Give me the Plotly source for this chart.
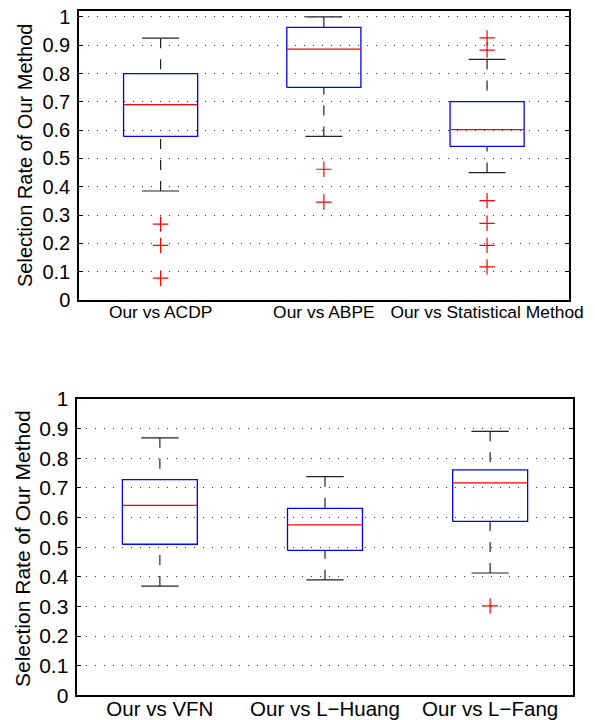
import plotly.graph_objects as go

# ---------------- data ----------------
top_labels = ["Our vs ACDP", "Our vs ABPE", "Our vs Statistical Method"]
top_upper = [0.925, 1.000, 0.850]
top_q3 = [0.800, 0.963, 0.701]
top_median = [0.690, 0.886, 0.602]
top_q1 = [0.578, 0.751, 0.543]
top_lower = [0.385, 0.578, 0.450]
top_outliers = [[0.268, 0.193, 0.077],
                [0.462, 0.346],
                [0.926, 0.883, 0.351, 0.271, 0.193, 0.117]]

bot_labels = ["Our vs VFN", "Our vs L\u2212Huang", "Our vs L\u2212Fang"]
bot_upper = [0.869, 0.738, 0.891]
bot_q3 = [0.728, 0.631, 0.761]
bot_median = [0.641, 0.575, 0.717]
bot_q1 = [0.510, 0.489, 0.587]
bot_lower = [0.369, 0.390, 0.413]
bot_outliers = [[], [], [0.302]]

y_title = "Selection Rate of Our Method"
y_ticks = [0, 0.1, 0.2, 0.3, 0.4, 0.5, 0.6, 0.7, 0.8, 0.9, 1.0]

FONT = "Liberation Sans, Arial, Helvetica, sans-serif"
BOX_HALF = 0.227
CAP_HALF = 0.113


def box_traces(upper, q3, med, q1, lower, outliers, xa, ya):
    traces = []
    bx, by, mx, my, wx, wy, cx, cy, ox, oy = ([] for _ in range(10))
    for i in range(len(med)):
        c = i + 1
        bx += [c - BOX_HALF, c + BOX_HALF, c + BOX_HALF, c - BOX_HALF, c - BOX_HALF, None]
        by += [q1[i], q1[i], q3[i], q3[i], q1[i], None]
        mx += [c - BOX_HALF, c + BOX_HALF, None]
        my += [med[i], med[i], None]
        wx += [c, c, None, c, c, None]
        wy += [upper[i], q3[i], None, lower[i], q1[i], None]
        cx += [c - CAP_HALF, c + CAP_HALF, None, c - CAP_HALF, c + CAP_HALF, None]
        cy += [upper[i], upper[i], None, lower[i], lower[i], None]
        for v in outliers[i]:
            ox.append(c)
            oy.append(v)
    common = dict(xaxis=xa, yaxis=ya, showlegend=False, hoverinfo="skip")
    traces.append(go.Scatter(x=wx, y=wy, mode="lines",
                             line=dict(color="#222222", width=1.2, dash="10px,11px"), **common))
    traces.append(go.Scatter(x=cx, y=cy, mode="lines",
                             line=dict(color="#222222", width=1.2), **common))
    traces.append(go.Scatter(x=bx, y=by, mode="lines",
                             line=dict(color="#0000ff", width=1.3), **common))
    traces.append(go.Scatter(x=mx, y=my, mode="lines",
                             line=dict(color="#ff0000", width=1.3), **common))
    if ox:
        traces.append(go.Scatter(x=ox, y=oy, mode="markers",
                                 marker=dict(symbol="cross-thin", size=11,
                                             line=dict(color="#ff0000", width=1.2)),
                                 **common))
    return traces


fig = go.Figure()
for t in box_traces(top_upper, top_q3, top_median, top_q1, top_lower, top_outliers, "x", "y"):
    fig.add_trace(t)
for t in box_traces(bot_upper, bot_q3, bot_median, bot_q1, bot_lower, bot_outliers, "x2", "y2"):
    fig.add_trace(t)


def xaxis(domain, labels, anchor, size, standoff):
    return dict(domain=domain, anchor=anchor, range=[0.5, 3.5], automargin=False,
                tickmode="array", tickvals=[1, 2, 3], ticktext=labels,
                ticks="", showgrid=False, zeroline=False,
                showline=True, linecolor="black", linewidth=1.5, mirror=True,
                tickfont=dict(family=FONT, size=size, color="black"),
                ticklabelstandoff=standoff)


def yaxis(domain, rng, anchor, size):
    return dict(domain=domain, anchor=anchor, range=rng, automargin=False,
                tickmode="array", tickvals=y_ticks,
                ticktext=[("%g" % v) for v in y_ticks],
                ticks="inside", ticklen=4, tickcolor="black",
                showgrid=True, gridcolor="#333333", gridwidth=1, griddash="1px,8px",
                zeroline=False,
                showline=True, linecolor="black", linewidth=1.5, mirror="ticks",
                tickfont=dict(family=FONT, size=size, color="black"),
                ticklabelstandoff=3)


fig.update_layout(
    template="none",
    width=595, height=720,
    margin=dict(l=0, r=0, t=0, b=0, autoexpand=False),
    paper_bgcolor="white", plot_bgcolor="white",
    xaxis=xaxis([79 / 595, 568.7 / 595], top_labels, "y", 17.4, -5),
    yaxis=yaxis([1 - 300 / 720, 1 - 11 / 720], [0, 1.021], "x", 20),
    xaxis2=xaxis([77.3 / 595, 572.7 / 595], bot_labels, "y2", 20.5, -6),
    yaxis2=yaxis([1 - 695.4 / 720, 1 - 399 / 720], [0, 1.0], "x2", 21),
    annotations=[
        dict(text=y_title, textangle=-90, showarrow=False, xref="paper", yref="paper",
             x=24.5 / 595, y=1 - 155.5 / 720, xanchor="center", yanchor="middle",
             font=dict(family=FONT, size=20, color="black")),
        dict(text=y_title, textangle=-90, showarrow=False, xref="paper", yref="paper",
             x=22 / 595, y=1 - 549 / 720, xanchor="center", yanchor="middle",
             font=dict(family=FONT, size=21, color="black")),
    ],
)

fig.write_html("out.html")
